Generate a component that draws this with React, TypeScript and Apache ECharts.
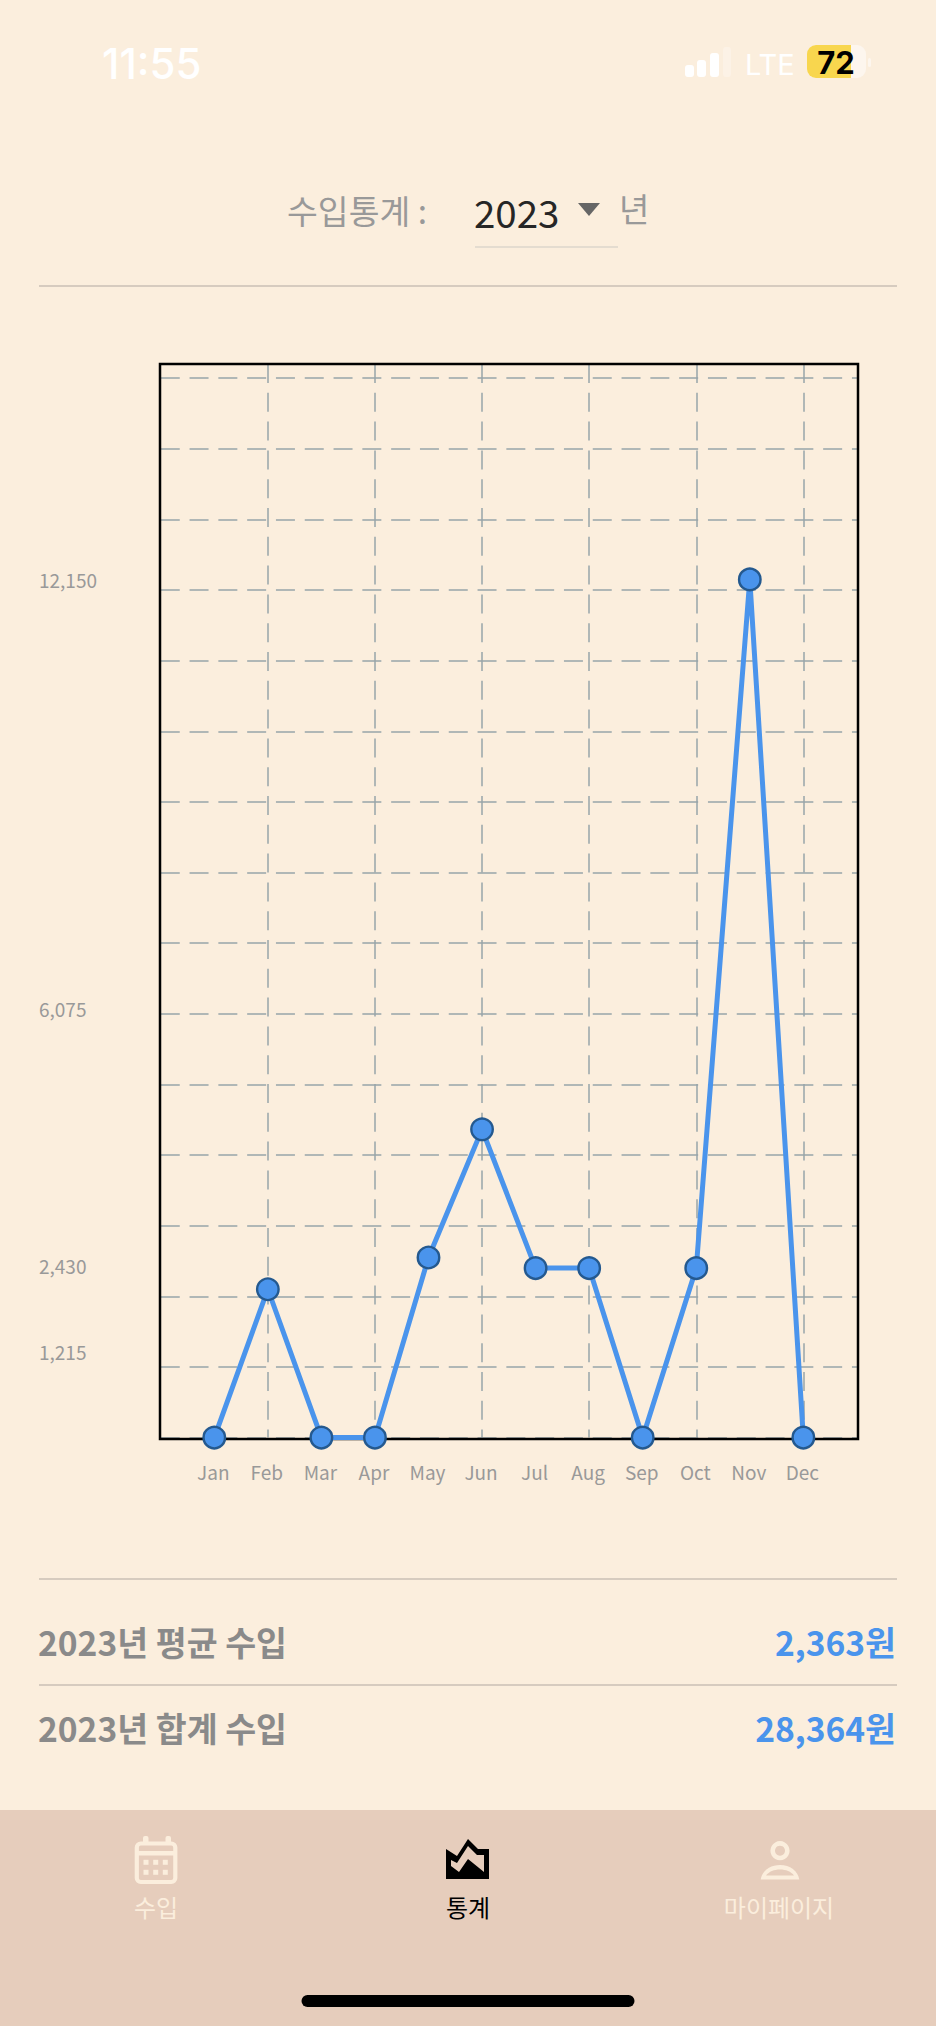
import React, { useEffect, useRef } from "react";
import * as echarts from "echarts";

const months = ["Jan", "Feb", "Mar", "Apr", "May", "Jun", "Jul", "Aug", "Sep", "Oct", "Nov", "Dec"];
const income = [0, 2100, 0, 0, 2550, 4364, 2400, 2400, 0, 2400, 12150, 0];
const yTickLabels = [1215, 2430, 6075, 12150];
const yMax = 15200;
const yStep = 1000;
const year = "2023";
const avgIncome = "2,363원";
const totalIncome = "28,364원";

const BG = "#FBEEDD";
const BAR = "#E6CDBC";
const BLUE = "#4A94EC";
const CJK = '"Noto Sans CJK KR", sans-serif';
const LATIN = 'Inter, Roboto, sans-serif';

echarts.graphic.registerShape(
  "domeOuter",
  echarts.graphic.extendPath("M760.7 1879.5 C762 1871 770 1865 780 1865 C790 1865 798 1871 799.3 1879.5 Z", {})
);
echarts.graphic.registerShape(
  "domeInner",
  echarts.graphic.extendPath("M766 1875.5 C769 1871.5 774 1869.5 780 1869.5 C786 1869.5 791 1871.5 794 1875.5 Z", {})
);

function txt(text: string, x: number, y: number, size: number, fill: string, align = "left", weight: any = "normal", font = CJK) {
  return {
    type: "text",
    z: 5,
    x,
    y,
    style: { text, fill, fontSize: size, fontWeight: weight, fontFamily: font, align, verticalAlign: "middle" },
  };
}
function hline(x1: number, x2: number, y: number, stroke: string, w = 2) {
  return { type: "line", z: 5, shape: { x1, y1: y, x2, y2: y }, style: { stroke, lineWidth: w } };
}
function box(x: number, y: number, width: number, height: number, fill: string, r: any = 0, extra: any = {}) {
  return { type: "rect", z: 5, shape: { x, y, width, height, r }, style: { fill, ...extra } };
}

function decorations(): any[] {
  const cal = BG;
  const dots: any[] = [];
  [146, 155.7, 165.3].forEach((dx) =>
    [1862.3, 1872.3].forEach((dy) => dots.push({ ...box(dx - 2.5, dy - 2.5, 5, 5, cal), z: 6 }))
  );
  return [
    // tab bar
    { ...box(0, 1810, 936, 216, BAR), z: 3 },
    // chart frame
    {
      type: "rect",
      z: 1,
      shape: { x: 160, y: 364, width: 698, height: 1075 },
      style: { fill: "none", stroke: "#000", lineWidth: 2.5 },
    },
    // status bar
    txt("11:55", 102, 63, 42, "#FFFFFF", "left", 500, LATIN),
    box(685, 65, 9, 12, "#FFFFFF", 3),
    box(697, 60, 9, 17, "#FFFFFF", 3),
    box(710, 53, 9, 24, "#FFFFFF", 3),
    box(723, 47, 8, 30, "#FCF2E6", 3),
    txt("LTE", 745, 64, 29, "#FFFFFF", "left", "normal", LATIN),
    box(807, 45, 59, 33, "#FDF6EE", 9),
    box(807, 45, 44, 33, "#F8D64E", [9, 0, 0, 9]),
    box(868, 58, 3, 9, "#FDF6EE", 2),
    { ...txt("72", 836, 62, 31, "#000000", "center", 700, LATIN), z: 6 },
    // header
    txt("수입통계 :", 287, 209, 33.5, "#999999"),
    txt(year, 474, 211, 38.5, "#262626"),
    { type: "polygon", z: 5, shape: { points: [[578, 203], [600, 203], [589, 216]] }, style: { fill: "#666666" } },
    txt("년", 619, 208, 33, "#999999"),
    hline(475, 618, 247, "#DDD6CB", 1.5),
    hline(39, 897, 286, "#D6CBBF", 2),
    // summary
    hline(39, 897, 1579, "#D6CBBF", 2),
    txt(`${year}년 평균 수입`, 38, 1641.5, 33.6, "#8A8A8A", "left", 700),
    txt(avgIncome, 896, 1641.5, 33.6, BLUE, "right", 700),
    hline(39, 897, 1685, "#D6CBBF", 2),
    txt(`${year}년 합계 수입`, 38, 1727.5, 33.6, "#8A8A8A", "left", 700),
    txt(totalIncome, 896, 1727.5, 33.6, BLUE, "right", 700),
    // calendar icon
    box(143, 1836, 5.5, 9, cal, 2),
    box(165.5, 1836, 5.5, 9, cal, 2),
    {
      type: "rect",
      z: 5,
      shape: { x: 136.8, y: 1843.5, width: 38.5, height: 38.5, r: 4 },
      style: { fill: "none", stroke: cal, lineWidth: 4.2 },
    },
    box(136, 1851, 40, 4.5, cal),
    ...dots,
    txt("수입", 156, 1906.5, 24, BG, "center"),
    // stats icon
    {
      type: "polygon",
      z: 5,
      shape: { points: [[446, 1849], [457, 1856], [468, 1839], [478, 1849], [489, 1849], [489, 1879], [446, 1879]] },
      style: { fill: "#000000" },
    },
    {
      type: "polygon",
      z: 6,
      shape: { points: [[451, 1860], [457, 1863], [468, 1846], [477, 1855], [484, 1855], [484, 1872], [468, 1859], [459, 1872], [451, 1866]] },
      style: { fill: BAR },
    },
    txt("통계", 468, 1906.5, 24, "#000000", "center"),
    // person icon
    {
      type: "ring",
      z: 5,
      shape: { cx: 780, cy: 1850.7, r: 9.6, r0: 5 },
      style: { fill: BG },
    },
    { type: "domeOuter", z: 5, x: 0, y: 0, style: { fill: BG } },
    { type: "domeInner", z: 6, x: 0, y: 0, style: { fill: BAR } },
    txt("마이페이지", 779, 1906.5, 24, BG, "center"),
    // home indicator
    { ...box(301.5, 1995, 333, 12, "#000000", 6), z: 6 },
  ];
}

export default function App() {
  const ref = useRef<HTMLDivElement>(null);
  useEffect(() => {
    document.body.style.margin = "0";
    document.body.style.background = BG;
    const chart = echarts.init(ref.current!, undefined, { renderer: "svg" });
    const grid = { color: "#98A5A9", width: 1.5, type: [19, 9.8] as any };
    chart.setOption({
      animation: false,
      backgroundColor: BG,
      grid: { left: 160.75, top: 364, width: 696.15, height: 1073.6, containLabel: false },
      tooltip: { show: false },
      xAxis: {
        type: "category",
        boundaryGap: false,
        data: ["", ...months, ""],
        axisLine: { show: false },
        axisTick: { show: false },
        axisLabel: {
          interval: 0,
          margin: 34,
          color: "#999999",
          fontSize: 19,
          fontFamily: CJK,
          verticalAlign: "middle",
          padding: [0, 2, 0, 0],
        },
        splitLine: {
          show: true,
          interval: (i: number) => i % 2 === 0 && i > 0,
          lineStyle: { ...grid, dashOffset: 0 },
        },
      },
      yAxis: [
        {
          type: "value",
          min: 0,
          max: yMax,
          interval: yStep,
          axisLine: { show: false },
          axisTick: { show: false },
          axisLabel: { show: false },
          splitLine: { show: true, lineStyle: { ...grid, dashOffset: 0 } },
        },
        {
          type: "value",
          position: "left",
          min: 0,
          max: yMax,
          axisLine: { show: false },
          axisTick: { show: false },
          splitLine: { show: false },
          axisLabel: {
            customValues: yTickLabels,
            margin: 121.75,
            align: "left",
            color: "#999999",
            fontSize: 19,
            fontFamily: CJK,
            padding: [0, 0, 2, 0],
            formatter: (v: number) => v.toLocaleString("en-US"),
          },
        },
      ],
      series: [
        {
          type: "line",
          yAxisIndex: 0,
          data: [null, ...income, null],
          smooth: false,
          showSymbol: true,
          showAllSymbol: true,
          symbol: "circle",
          symbolSize: 21.5,
          lineStyle: { color: BLUE, width: 5 },
          itemStyle: { color: BLUE, borderColor: "#24598F", borderWidth: 2.4, opacity: 1 },
          z: 4,
        },
      ],
      graphic: { elements: decorations() },
    });
    return () => chart.dispose();
  }, []);
  return <div ref={ref} style={{ width: 936, height: 2026 }} />;
}
